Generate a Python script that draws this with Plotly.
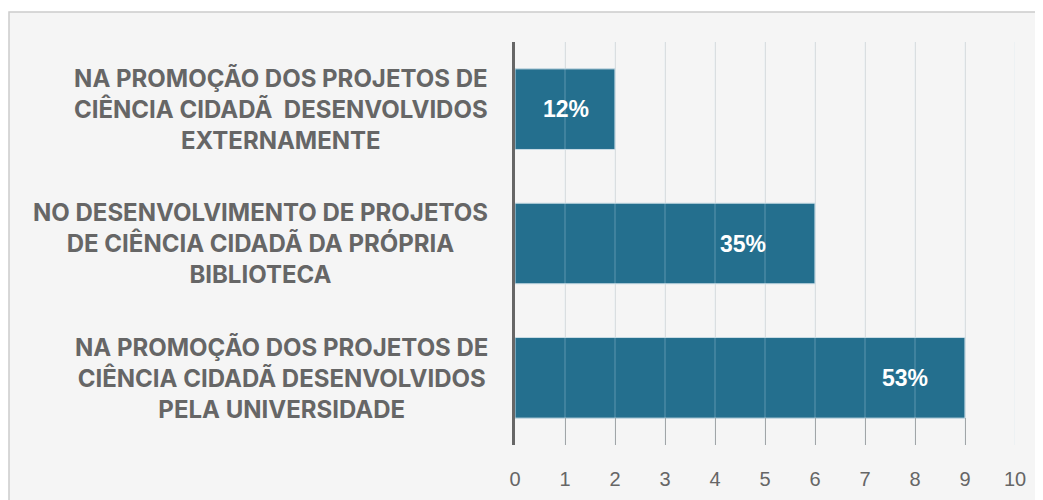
import plotly.graph_objects as go

# Données (de haut en bas)
categories = [
    "NA PROMOÇÃO DOS PROJETOS DE<br>CIÊNCIA CIDADÃ&nbsp; DESENVOLVIDOS<br>EXTERNAMENTE",
    "NO DESENVOLVIMENTO DE PROJETOS<br>DE CIÊNCIA CIDADÃ DA PRÓPRIA<br>BIBLIOTECA",
    "NA PROMOÇÃO DOS PROJETOS DE<br>CIÊNCIA CIDADÃ DESENVOLVIDOS<br>PELA UNIVERSIDADE",
]
valeurs = [2, 6, 9]
etiquettes = ["12%", "35%", "53%"]
ticks_x = [0, 1, 2, 3, 4, 5, 6, 7, 8, 9, 10]

BAR = "#246f8e"
GRIS = "#666666"

fig = go.Figure()

fig.add_trace(
    go.Bar(
        x=valeurs,
        y=categories,
        orientation="h",
        marker=dict(color=BAR, line=dict(color="#c9dce5", width=1)),
        hoverinfo="skip",
    )
)

# Fond du panneau
fig.add_shape(
    type="rect", xref="paper", yref="paper",
    x0=-1.012, x1=1.2, y0=-0.3, y1=1.0744,
    fillcolor="#f5f5f5", line=dict(color="#cccccc", width=1.5),
    layer="below",
)

# Lignes de grille visibles à travers les barres
for t in ticks_x[1:]:
    fig.add_vline(x=t, line_color="rgba(200,225,235,0.35)", line_width=1, layer="above")

# Étiquettes des catégories
for c in categories:
    fig.add_annotation(
        x=-0.05, xref="paper", y=c, yref="y",
        text=c, showarrow=False, xanchor="right", align="center",
        font=dict(family="Inter", size=24, color=GRIS, weight="bold"),
    )

# Étiquettes de valeurs
decalages = [-24, -47, -35]
for v, e, c, d in zip(valeurs, etiquettes, categories, decalages):
    fig.add_annotation(
        x=v, y=c, text=e, showarrow=False, xanchor="right", xshift=d,
        font=dict(family="Liberation Sans", size=23, color="white", weight="bold"),
    )

fig.update_layout(
    width=1043,
    height=500,
    paper_bgcolor="white",
    plot_bgcolor="rgba(0,0,0,0)",
    bargap=0.4,
    showlegend=False,
    margin=dict(l=507, r=36, t=34, b=63),
)

fig.update_xaxes(
    range=[0, 10],
    tickvals=ticks_x,
    showgrid=True,
    gridcolor="#dddddd",
    gridwidth=1,
    zeroline=False,
    ticks="inside",
    ticklen=27,
    tickcolor="#999999",
    tickwidth=1,
    ticklabelstandoff=20,
    tickfont=dict(family="Liberation Sans", size=20, color=GRIS),
)

fig.update_yaxes(
    autorange="reversed",
    showticklabels=False,
    showgrid=False,
    showline=True,
    linecolor=GRIS,
    linewidth=3,
)

fig.write_html("out.html")
